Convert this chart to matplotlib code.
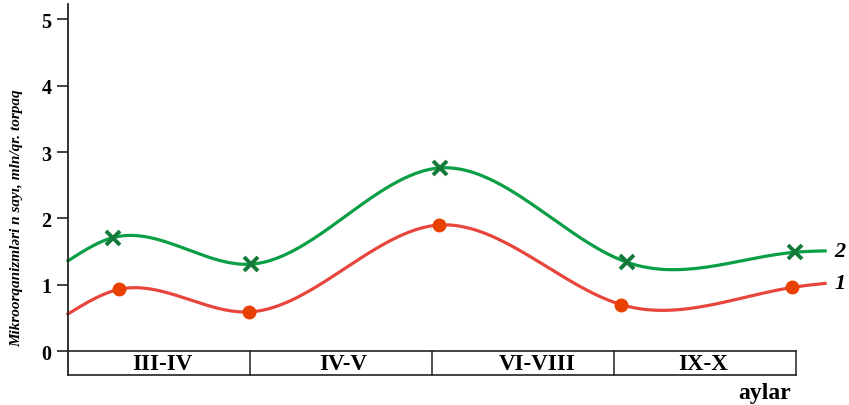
import matplotlib
matplotlib.use("Agg")
import matplotlib.pyplot as plt
import numpy as np

# data (x in month-period units, 0 = y axis, each period cell = 1 unit)
green_x = [0.0, 0.247, 1.005, 2.044, 3.07, 3.995, 4.16]
green_y = [1.36, 1.71, 1.31, 2.76, 1.34, 1.49, 1.51]
red_x = [0.0, 0.28, 0.995, 2.04, 3.04, 3.98, 4.16]
red_y = [0.56, 0.93, 0.59, 1.90, 0.70, 0.96, 1.02]
periods = ["III-IV", "IV-V", "VI-VIII", "IX-X"]
period_label_x = [0.52, 1.51, 2.58, 3.49]
y_ticks = [0, 1, 2, 3, 4, 5]


def natural_spline(x, y, n=400):
    x = np.asarray(x, float)
    y = np.asarray(y, float)
    k = len(x)
    h = np.diff(x)
    A = np.zeros((k, k))
    b = np.zeros(k)
    A[0, 0] = A[-1, -1] = 1
    for i in range(1, k - 1):
        A[i, i - 1] = h[i - 1]
        A[i, i] = 2 * (h[i - 1] + h[i])
        A[i, i + 1] = h[i]
        b[i] = 6 * ((y[i + 1] - y[i]) / h[i] - (y[i] - y[i - 1]) / h[i - 1])
    m = np.linalg.solve(A, b)
    xs = np.linspace(x[0], x[-1], n)
    idx = np.clip(np.searchsorted(x, xs) - 1, 0, k - 2)
    t0 = x[idx]
    t1 = x[idx + 1]
    hh = t1 - t0
    ys = (m[idx] * (t1 - xs) ** 3 / (6 * hh) + m[idx + 1] * (xs - t0) ** 3 / (6 * hh)
          + (y[idx] / hh - m[idx] * hh / 6) * (t1 - xs)
          + (y[idx + 1] / hh - m[idx + 1] * hh / 6) * (xs - t0))
    return xs, ys


fig = plt.figure(figsize=(8.49, 4.06), dpi=100)
ax = fig.add_axes([68 / 849, 30 / 406, 762 / 849, 371 / 406])
ax.set_xlim(0, 762 / 182)
ax.set_ylim(-0.36, 5.23)

serif = "Liberation Serif"
dark = "#222222"

# curves
gx, gy = natural_spline(green_x, green_y)
rx, ry = natural_spline(red_x, red_y)
ax.plot(gx, gy, color="#0a9e45", lw=2.3, clip_on=False)
ax.plot(rx, ry, color="#e8463c", lw=2.3, clip_on=False)
ax.plot(green_x[1:-1], green_y[1:-1], "x", color="#147a3a", ms=10, mew=2.8, clip_on=False)
ax.plot(red_x[1:-1], red_y[1:-1], "o", color="#e84000", ms=9, clip_on=False)

# series labels
ax.text(4.21, green_y[-1], "2", fontsize=16, fontweight="bold", style="italic",
        family=serif, va="center", ha="left", clip_on=False)
ax.text(4.21, red_y[-1], "1", fontsize=16, fontweight="bold", style="italic",
        family=serif, va="center", ha="left", clip_on=False)

# table of months under the axis
ax.plot([0, 4], [0, 0], color=dark, lw=1.2, clip_on=False)
ax.plot([0, 4], [-0.36, -0.36], color=dark, lw=1.2, clip_on=False)
for xv in range(1, 5):
    ax.plot([xv, xv], [-0.36, 0], color=dark, lw=1.1, clip_on=False)
for lx, lab in zip(period_label_x, periods):
    ax.text(lx, -0.18, lab, fontsize=16.5, fontweight="bold", family=serif,
            ha="center", va="center")
ax.text(3.83, -0.63, "aylar", fontsize=17, fontweight="bold", family=serif,
        ha="center", va="center", clip_on=False)

# axis styling
for s in ["top", "right", "bottom"]:
    ax.spines[s].set_visible(False)
ax.spines["left"].set_color(dark)
ax.spines["left"].set_linewidth(1.3)
ax.set_xticks([])
ax.set_yticks(y_ticks)
ax.set_yticklabels([str(v) for v in y_ticks])
ax.tick_params(axis="y", length=8, width=1.2, color=dark, pad=4)
for lab in ax.get_yticklabels():
    lab.set_fontsize(14.5)
    lab.set_fontweight("bold")
    lab.set_family(serif)

fig.text(17 / 849, 1 - 218 / 406, "Mikroorqanizmləri n sayı, mln/qr. torpaq",
         rotation=90, fontsize=11, style="italic", fontweight="bold", family=serif,
         ha="center", va="center")

fig.savefig("out.png", dpi=100)
